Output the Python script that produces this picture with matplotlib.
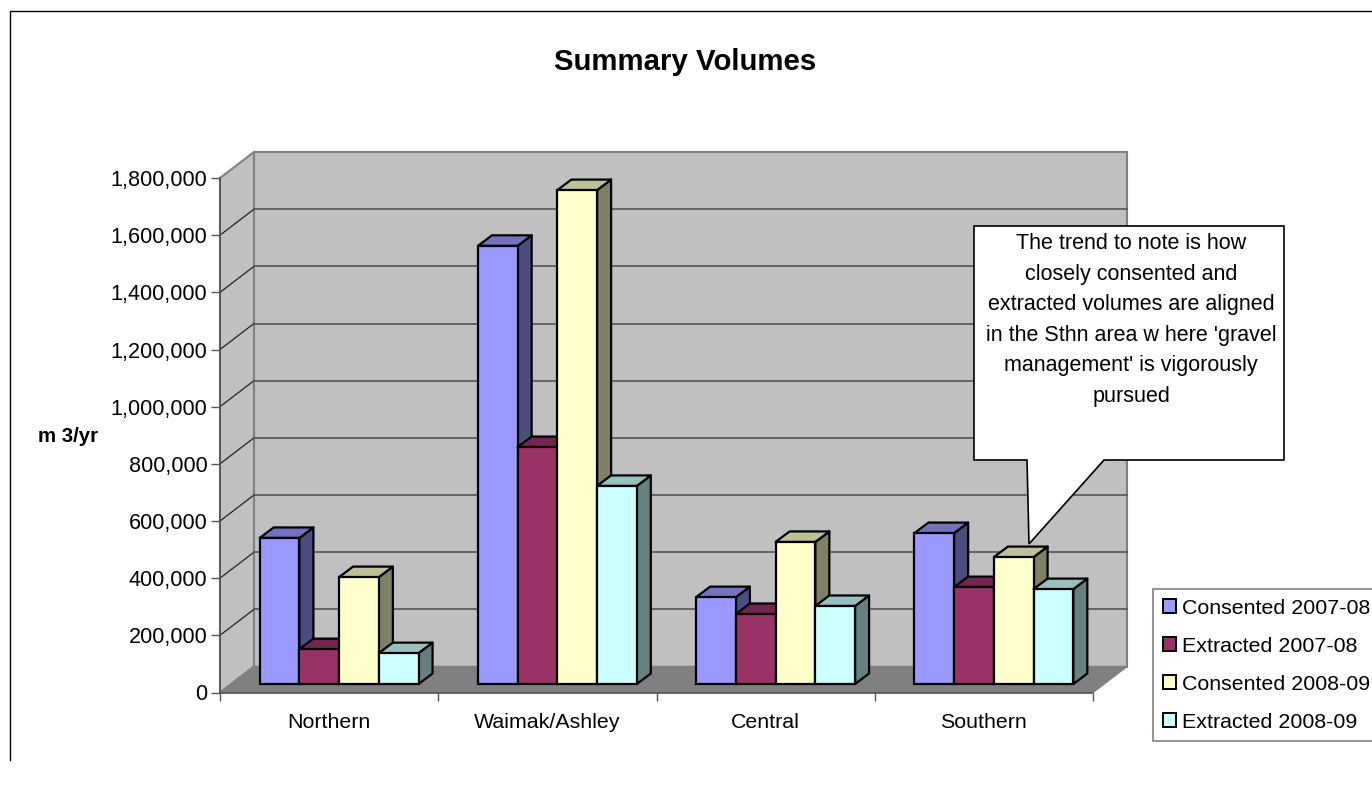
import matplotlib
matplotlib.use('Agg')
import numpy as np
import matplotlib.pyplot as plt
from matplotlib.patches import Patch, Polygon
from matplotlib.transforms import offset_copy

plt.rcParams['font.family'] = ['Liberation Sans', 'DejaVu Sans']

categories = ['Northern', 'Waimak/Ashley', 'Central', 'Southern']
consented_0708 = [511000, 1533000, 304000, 528000]
extracted_0708 = [122000, 829000, 245000, 339000]
consented_0809 = [374000, 1728000, 497000, 444000]
extracted_0809 = [108000, 693000, 273000, 332000]
series_names = ['Consented 2007-08', 'Extracted 2007-08', 'Consented 2008-09', 'Extracted 2008-09']
colors = ['#9999FF', '#993366', '#FFFFCC', '#CCFFFF']
y_ticks = [0, 200000, 400000, 600000, 800000, 1000000, 1200000, 1400000, 1600000, 1800000]
note = ("The trend to note is how\nclosely consented and\nextracted volumes are aligned\n"
        "in the Sthn area w here 'gravel\nmanagement' is vigorously\npursued")

W, H = 1372, 787
Y_MAX = 1800000
bar_w = 0.182
fig = plt.figure(figsize=(W / 100, H / 100), dpi=100)


def fx(px):
    return px / W


def fy(px):
    return 1 - px / H


def shade(col, f):
    rgb = np.array(matplotlib.colors.to_rgb(col))
    return tuple(rgb * f)


# outer frame, open on the right and at the bottom
fig.add_artist(plt.Line2D([fx(10), fx(10), fx(W)], [fy(760), fy(11), fy(11)], color='black', lw=1))

ax = fig.add_axes([fx(220), fy(692.5), fx(873), (692.5 - 178) / H])
ax.set_xlim(0, 4)
ax.set_ylim(0, Y_MAX)
ax.patch.set_visible(False)
px_x = 4 / 873
px_y = Y_MAX / 514.5

# walls and floor, depth 34 px across and 26 px up
wall_dx = 34 * px_x
wall_dy = 26 * px_y
ax.add_patch(Polygon([(0, 0), (wall_dx, wall_dy), (wall_dx, Y_MAX + wall_dy), (0, Y_MAX)],
                     fc='#C0C0C0', ec='#808080', lw=1.5, clip_on=False, zorder=0))
ax.add_patch(Polygon([(wall_dx, wall_dy), (4 + wall_dx, wall_dy), (4 + wall_dx, Y_MAX + wall_dy),
                      (wall_dx, Y_MAX + wall_dy)],
                     fc='#C0C0C0', ec='#808080', lw=1.5, clip_on=False, zorder=0))
ax.add_patch(Polygon([(0, 0), (4, 0), (4 + wall_dx, wall_dy), (wall_dx, wall_dy)],
                     fc='#808080', ec='#808080', lw=1, clip_on=False, zorder=0.5))
for v in y_ticks[1:-1]:
    ax.plot([0, wall_dx], [v, v + wall_dy], color='#222222', lw=0.9, clip_on=False, zorder=0.6)
    ax.plot([wall_dx, 4 + wall_dx], [v + wall_dy, v + wall_dy], color='#555555', lw=1.2,
            clip_on=False, zorder=0.6)

# bars: front faces sit a little in from the axis plane
front = offset_copy(ax.transData, fig=fig, x=10, y=8.5, units='dots')
dep_x = 14 * px_x
dep_y = 10.5 * px_y
values = [consented_0708, extracted_0708, consented_0809, extracted_0809]
z = 2
for c in range(len(categories)):
    for s in range(len(values)):
        left = c + 0.136 + s * bar_w
        right = left + bar_w
        v = values[s][c]
        col = colors[s]
        ax.add_patch(Polygon([(right, 0), (right + dep_x, dep_y), (right + dep_x, v + dep_y), (right, v)],
                             fc=shade(col, 0.5), ec='black', lw=1.6, transform=front,
                             clip_on=False, zorder=z, joinstyle='round'))
        ax.add_patch(Polygon([(left, v), (right, v), (right + dep_x, v + dep_y), (left + dep_x, v + dep_y)],
                             fc=shade(col, 0.75), ec='black', lw=1.6, transform=front,
                             clip_on=False, zorder=z, joinstyle='round'))
        ax.bar(left, v, bar_w, align='edge', color=col, edgecolor='black', linewidth=1.6,
               transform=front, clip_on=False, zorder=z + 0.5)
        z += 1

for name in ['top', 'right']:
    ax.spines[name].set_visible(False)
for name in ['left', 'bottom']:
    ax.spines[name].set_color('#555555')
    ax.spines[name].set_linewidth(1.2)
    ax.spines[name].set_zorder(1)

ax.set_yticks(y_ticks)
ax.set_yticklabels([f'{v:,}' for v in y_ticks], fontsize=15.6, color='black')
ax.tick_params(axis='y', length=6.5, width=1, color='#555555', pad=2.5)
ax.set_xticks(range(5))
ax.set_xticklabels([])
ax.tick_params(axis='x', which='major', length=6, width=1, color='#555555')
ax.set_xticks(np.arange(4) + 0.5, minor=True)
ax.set_xticklabels(categories, minor=True, fontsize=15.4)
ax.tick_params(axis='x', which='minor', length=0, pad=14.5)

fig.text(fx(685), fy(61.5), 'Summary Volumes', ha='center', va='center', fontsize=21.2, fontweight='bold')
fig.text(fx(68), fy(436), 'm 3/yr', ha='center', va='center', fontsize=14.7, fontweight='bold')

# callout
callout = [(974, 226), (1284, 226), (1284, 460), (1104, 460), (1029, 544), (1027, 460), (974, 460)]
fig.add_artist(Polygon([(fx(x), fy(y)) for x, y in callout], closed=True, fc='white', ec='black',
                       lw=1.2, transform=fig.transFigure, zorder=20))
fig.text(fx(1131), fy(320), note, ha='center', va='center', fontsize=15.5, linespacing=1.6, zorder=21)

handles = [Patch(fc=c, ec='black', lw=1.4) for c in colors]
leg = fig.legend(handles, series_names, loc='upper left', bbox_to_anchor=(fx(1153), fy(589)),
                 borderaxespad=0, fontsize=15.4, frameon=True, fancybox=False, edgecolor='#808080',
                 framealpha=1, handlelength=0.61, handleheight=0.61, handletextpad=0.3,
                 labelspacing=0.89, borderpad=0.45)
leg.get_frame().set_linewidth(1.2)

fig.savefig('out.png', dpi=100)
